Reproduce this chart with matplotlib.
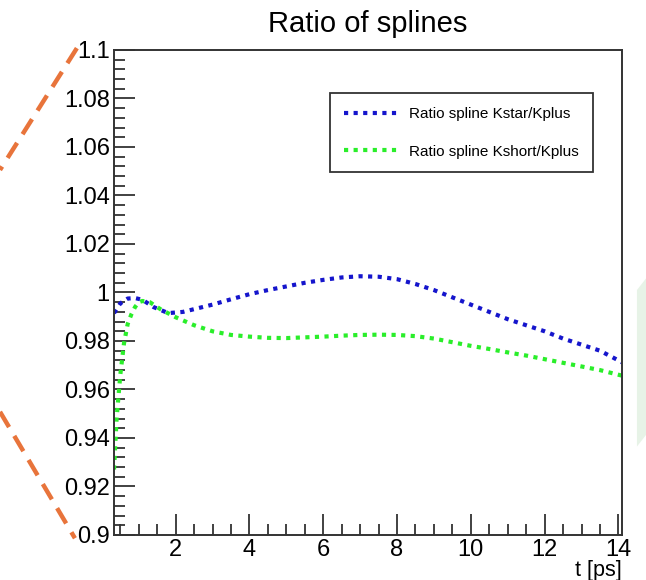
import matplotlib
matplotlib.use("Agg")
import matplotlib.pyplot as plt
from matplotlib.lines import Line2D
from matplotlib.patches import Polygon
from matplotlib.ticker import MultipleLocator, FuncFormatter

# values
t_kstar = [0.33, 0.5, 0.7, 0.9, 1.1, 1.4, 1.8, 2.2, 2.6, 3.0, 3.5, 4.0, 4.5, 5.0, 5.5, 6.0,
           6.5, 7.0, 7.5, 8.0, 8.5, 9.0, 9.5, 10.0, 10.5, 11.0, 11.5, 12.0, 12.5, 13.0, 13.5, 14.1]
ratio_kstar = [0.9915, 0.9955, 0.9975, 0.9977, 0.997, 0.994, 0.9915, 0.992, 0.9935, 0.995, 0.9972,
               0.9993, 1.001, 1.0025, 1.004, 1.0052, 1.0062, 1.0067, 1.0065, 1.0055, 1.0035, 1.001,
               0.998, 0.995, 0.992, 0.989, 0.9865, 0.984, 0.981, 0.9785, 0.976, 0.9712]

t_kshort = [0.33, 0.4, 0.5, 0.6, 0.7, 0.8, 0.9, 1.0, 1.1, 1.3, 1.6, 2.0, 2.5, 3.0, 3.5, 4.0, 4.5,
            5.0, 5.5, 6.0, 6.5, 7.0, 7.5, 8.0, 8.5, 9.0, 9.5, 10.0, 10.5, 11.0, 11.5, 12.0, 12.5,
            13.0, 13.5, 14.1]
ratio_kshort = [0.927, 0.948, 0.966, 0.979, 0.987, 0.991, 0.994, 0.996, 0.9965, 0.996, 0.993, 0.9898,
                0.9865, 0.984, 0.9825, 0.9818, 0.9813, 0.9812, 0.9815, 0.9818, 0.9822, 0.9825, 0.9826,
                0.9825, 0.982, 0.981, 0.9795, 0.978, 0.9767, 0.9753, 0.974, 0.9725, 0.971, 0.9695,
                0.968, 0.9657]

labels = ["Ratio spline Kstar/Kplus", "Ratio spline Kshort/Kplus"]

matplotlib.rcParams['font.family'] = ["Liberation Sans", "DejaVu Sans"]

fig = plt.figure(figsize=(6.46, 5.8), dpi=100)
ax = fig.add_axes([0.1765, 0.0776, 0.7865, 0.8362])

ax.plot(t_kstar, ratio_kstar, color="#1515cc", lw=3, ls=(0, (1, 1.3)), label=labels[0])
ax.plot(t_kshort, ratio_kshort, color="#2aee2a", lw=3, ls=(0, (1, 1.3)), label=labels[1])

ax.set_xlim(0.33, 14.1)
ax.set_ylim(0.9, 1.1)
ax.xaxis.set_major_locator(MultipleLocator(2))
ax.xaxis.set_minor_locator(MultipleLocator(0.5))
ax.yaxis.set_major_locator(MultipleLocator(0.02))
ax.yaxis.set_minor_locator(MultipleLocator(0.004))
ax.yaxis.set_major_formatter(FuncFormatter(lambda v, p: "%g" % round(v, 3)))
ax.tick_params(which="both", direction="in", top=False, right=False, labelsize=17,
               width=1.3, color="#333333")
ax.tick_params(which="major", length=15, pad=3)
ax.tick_params(which="minor", length=8)
for s in ax.spines.values():
    s.set_linewidth(1.4)
    s.set_color("#333333")

ax.set_title("Ratio of splines", fontsize=21, pad=13)
ax.text(1.0, -0.084, "t [ps]", transform=ax.transAxes, ha="right", va="baseline", fontsize=15.5)

leg = ax.legend(loc="upper left", bbox_to_anchor=(0.425, 0.911), borderaxespad=0,
                fancybox=False, edgecolor="#333333", framealpha=1, fontsize=11,
                handlelength=3.6, handletextpad=0.7, labelspacing=1.55, borderpad=0.9)
leg.get_frame().set_linewidth(1.3)

# slide decorations around the chart
for xs, ys in [((0.119, 0.0), (0.917, 0.707)), ((0.0, 0.116), (0.29, 0.072))]:
    fig.add_artist(Line2D(xs, ys, transform=fig.transFigure, color="#e8743b",
                          lw=3.2, ls=(0, (4, 2.3))))
fig.add_artist(Polygon([(0.986, 0.5), (1.0, 0.52), (1.0, 0.25), (0.986, 0.23)],
                       closed=True, transform=fig.transFigure, color="#d8ecd8", alpha=0.6, lw=0))

fig.savefig("out.png", dpi=100)
